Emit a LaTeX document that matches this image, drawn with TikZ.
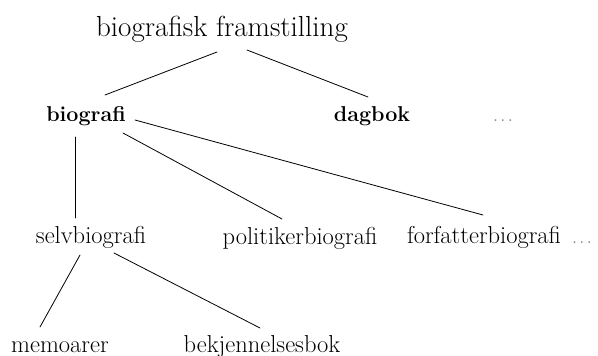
\documentclass[tikz,border=0pt]{standalone}
\begin{document}
\begin{tikzpicture}[x=1pt,y=-1pt,line join=round,line cap=round,
	goc/.style={anchor=base,inner sep=0pt,font=\fontsize{29}{32}\selectfont},
	nut/.style={anchor=base,inner sep=0pt,font=\fontsize{21.5}{24}\selectfont\bfseries},
	la/.style={anchor=base,inner sep=0pt,font=\fontsize{24.5}{28}\selectfont},
	cham/.style={anchor=base,inner sep=0pt,text=gray,font=\fontsize{22}{24}\selectfont},
	nhanh/.style={line width=0.8pt}]
	% Khung
	\useasboundingbox (0,0) rectangle (598,356);
	% Các nút
	\node [goc] (bf) at (222,36) {biografisk framstilling};
	\node [nut] (bio) at (86,121) {biografi};
	\node [nut] (dag) at (372,121) {dagbok};
	\node [cham] (d1) at (503,121) {.\kern2pt.\kern2pt.};
	\node [la] (selv) at (91,243) {selvbiografi};
	\node [la] (pol) at (300,244) {politikerbiografi};
	\node [la] (forf) at (484,243) {forfatterbiografi};
	\node [cham] (d2) at (582,243) {.\kern2pt.\kern2pt.};
	\node [la] (mem) at (60,352) {memoarer};
	\node [la] (bek) at (262,352) {bekjennelsesbok};
	% Các nhánh
	\draw [nhanh] ([shift={(-5,16)}]bf.base)--([shift={(19,-26)}]bio.base);
	\draw [nhanh] ([shift={(25,14)}]bf.base)--([shift={(-4,-24)}]dag.base);
	\draw [nhanh] ([shift={(-11,16)}]bio.base)--([shift={(-16,-25)}]selv.base);
	\draw [nhanh] ([shift={(37,12)}]bio.base)--([shift={(-18,-25)}]pol.base);
	\draw [nhanh] ([shift={(49,-1)}]bio.base)--([shift={(-1,-28)}]forf.base);
	\draw [nhanh] ([shift={(-11,12)}]selv.base)--([shift={(-20,-25)}]mem.base);
	\draw [nhanh] ([shift={(23,10)}]selv.base)--([shift={(-2,-24)}]bek.base);
\end{tikzpicture}
\end{document}
